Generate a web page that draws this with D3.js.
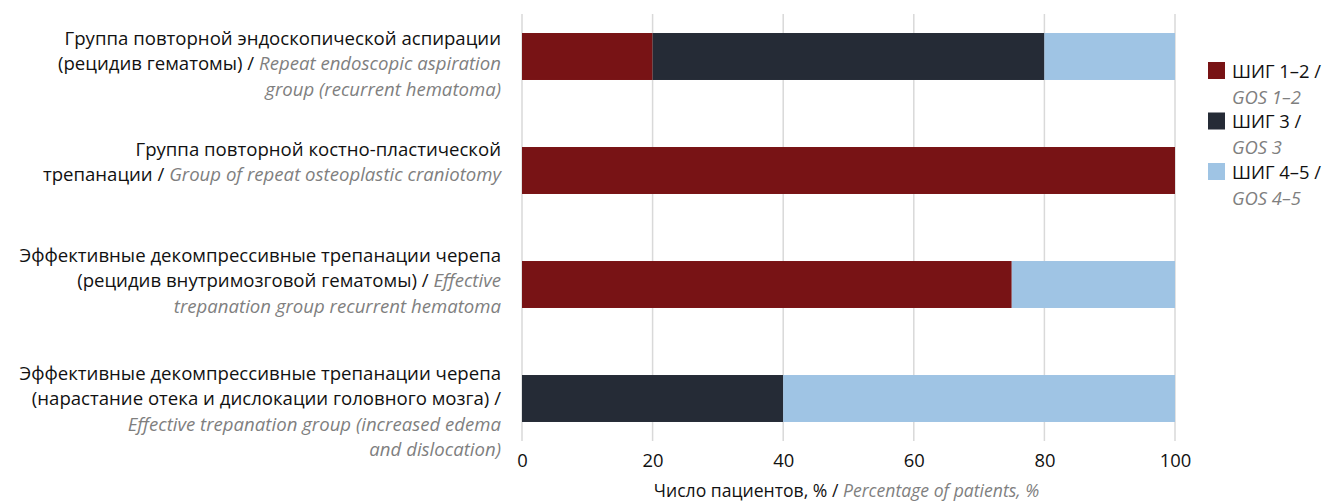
<!DOCTYPE html>
<html>
<head>
<meta charset="utf-8">
<script src="https://cdn.jsdelivr.net/npm/d3@7"></script>
<style>
  html, body { margin: 0; padding: 0; background: #fff; }
  svg { display: block; font-family: "Open Sans", "Noto Sans", sans-serif; }
</style>
</head>
<body>
<svg id="chart" width="1325" height="502"></svg>
<script>
// Outcome groups (rows), top to bottom
const categories = ["endoAspiration", "osteoplastic", "decompHematoma", "decompEdema"];

// Row labels: each line is a list of [text, language] runs
const categoryLines = [
  [
    [["Группа повторной эндоскопической аспирации", "ru"]],
    [["(рецидив гематомы) / ", "ru"], ["Repeat endoscopic aspiration", "en"]],
    [["group (recurrent hematoma)", "en"]]
  ],
  [
    [["Группа повторной костно-пластической", "ru"]],
    [["трепанации / ", "ru"], ["Group of repeat osteoplastic craniotomy", "en"]]
  ],
  [
    [["Эффективные декомпрессивные трепанации черепа", "ru"]],
    [["(рецидив внутримозговой гематомы) / ", "ru"], ["Effective", "en"]],
    [["trepanation group recurrent hematoma", "en"]]
  ],
  [
    [["Эффективные декомпрессивные трепанации черепа", "ru"]],
    [["(нарастание отека и дислокации головного мозга) /", "ru"]],
    [["Effective trepanation group (increased edema", "en"]],
    [["and dislocation)", "en"]]
  ]
];

// Share of patients, % per outcome class
const gos12 = [20, 100, 75, 0];
const gos3  = [60, 0, 0, 40];
const gos45 = [20, 0, 25, 60];

const seriesKeys = ["gos12", "gos3", "gos45"];
const seriesRu = ["ШИГ 1–2 /", "ШИГ 3 /", "ШИГ 4–5 /"];
const seriesEn = ["GOS 1–2", "GOS 3", "GOS 4–5"];
const seriesColors = ["#781315", "#252b36", "#9fc4e4"];

const xTicks = [0, 20, 40, 60, 80, 100];
const xTitleRu = "Число пациентов, % / ";
const xTitleEn = "Percentage of patients, %";

// Layout
const plot = { left: 522, right: 1175, top: 14, bottom: 441 };
const labelRight = 501;
const labelSize = 18.6;
const lineHeight = 25.5;
const labelShift = [7, -8.5, -4, 13]; // vertical nudge of each label block
const grey = "#7f7f7f";

const svg = d3.select("#chart");

const rows = categories.map((c, i) => ({
  key: c, gos12: gos12[i], gos3: gos3[i], gos45: gos45[i]
}));

const x = d3.scaleLinear().domain([0, 100]).range([plot.left, plot.right]);
const y = d3.scaleBand().domain(categories).range([-0.5, 455.5]).paddingInner(0.588).paddingOuter(0.294);

// Vertical gridlines
svg.append("g").selectAll("line").data(xTicks).join("line")
  .attr("x1", d => x(d)).attr("x2", d => x(d))
  .attr("y1", plot.top).attr("y2", plot.bottom)
  .attr("stroke", "#d9d9d9").attr("stroke-width", 1.5);

// Stacked bars
const stack = d3.stack().keys(seriesKeys)(rows);
svg.append("g").selectAll("g").data(stack).join("g")
  .attr("fill", (d, i) => seriesColors[i])
  .selectAll("rect").data(d => d.filter(s => s[1] - s[0] > 0)).join("rect")
  .attr("x", d => x(d[0]))
  .attr("width", d => x(d[1]) - x(d[0]))
  .attr("y", d => y(d.data.key))
  .attr("height", y.bandwidth());

// X axis tick labels
const xAxis = d3.axisBottom(x).tickValues(xTicks).tickSize(0).tickPadding(0).tickFormat(d3.format("d"));
const gx = svg.append("g").attr("transform", `translate(0, ${plot.bottom + 13})`).call(xAxis);
gx.select(".domain").remove();
gx.selectAll("text").attr("font-size", 18.4).attr("fill", "#111")
  .attr("font-family", '"Open Sans", "Noto Sans", sans-serif').attr("dy", "0.71em");

// X axis title
const title = svg.append("text")
  .attr("x", (plot.left + plot.right) / 2 - 2).attr("y", 497)
  .attr("text-anchor", "middle").attr("font-size", 17.6);
title.append("tspan").attr("fill", "#111").text(xTitleRu);
title.append("tspan").attr("fill", grey).attr("font-style", "italic").text(xTitleEn);

// Row labels
categoryLines.forEach((lines, i) => {
  const cy = y(categories[i]) + y.bandwidth() / 2 + labelShift[i];
  const firstBase = cy - (lines.length - 1) * lineHeight / 2 + 6.5;
  lines.forEach((runs, j) => {
    const t = svg.append("text")
      .attr("x", labelRight).attr("y", firstBase + j * lineHeight)
      .attr("text-anchor", "end").attr("font-size", labelSize);
    runs.forEach(([txt, lang]) => {
      const s = t.append("tspan").text(txt);
      if (lang === "en") s.attr("fill", grey).attr("font-style", "italic");
      else s.attr("fill", "#111");
    });
  });
});

// Legend
const legend = svg.append("g").attr("transform", "translate(1208, 62)");
seriesKeys.forEach((k, i) => {
  const g = legend.append("g").attr("transform", `translate(0, ${i * 50.5})`);
  g.append("rect").attr("width", 17).attr("height", 17).attr("fill", seriesColors[i]);
  g.append("text").attr("x", 24).attr("y", 15.5).attr("font-size", 18.4).attr("fill", "#111").text(seriesRu[i]);
  g.append("text").attr("x", 24).attr("y", 41.5).attr("font-size", 18.4).attr("fill", grey)
    .attr("font-style", "italic").text(seriesEn[i]);
});
</script>
</body>
</html>
